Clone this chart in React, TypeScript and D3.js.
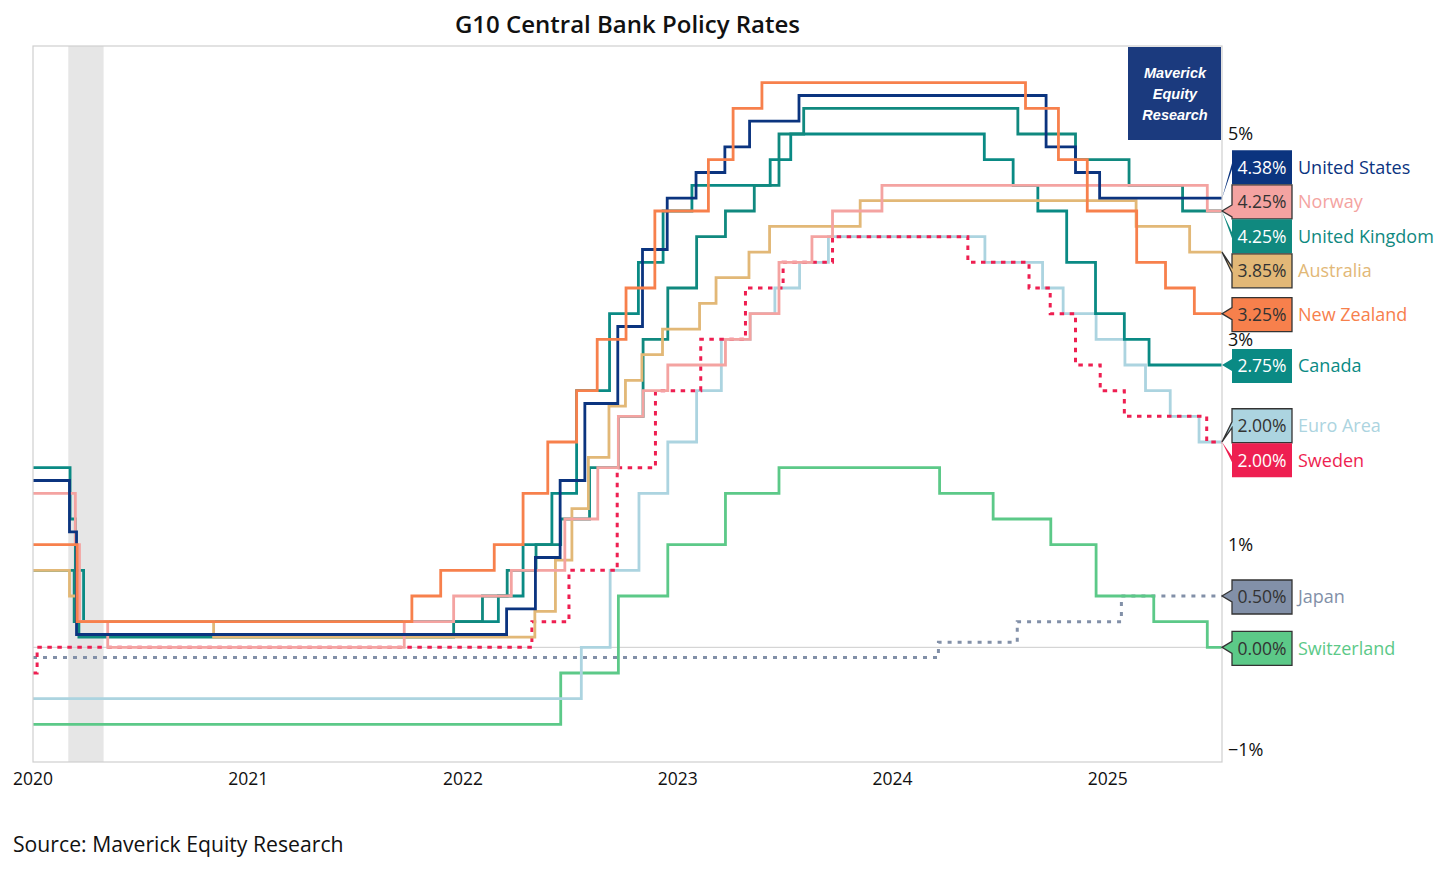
import { useEffect, useRef } from "react";
import * as d3 from "d3";

// [decision date, policy rate %]
type Step = [string, number];

const START = "2020-01-01";
const END = "2025-07-14";

const US: Step[] = [
  ["2020-01-01", 1.625], ["2020-03-03", 1.125], ["2020-03-15", 0.125],
  ["2022-03-16", 0.375], ["2022-05-04", 0.875], ["2022-06-15", 1.625],
  ["2022-07-27", 2.375], ["2022-09-21", 3.125], ["2022-11-02", 3.875],
  ["2022-12-14", 4.375], ["2023-02-01", 4.625], ["2023-03-22", 4.875],
  ["2023-05-03", 5.125], ["2023-07-26", 5.375], ["2024-09-18", 4.875],
  ["2024-11-07", 4.625], ["2024-12-18", 4.375],
];

const NORWAY: Step[] = [
  ["2020-01-01", 1.5], ["2020-03-13", 1.0], ["2020-03-20", 0.25], ["2020-05-07", 0],
  ["2021-09-23", 0.25], ["2021-12-16", 0.5], ["2022-03-24", 0.75], ["2022-06-23", 1.25],
  ["2022-08-18", 1.75], ["2022-09-22", 2.25], ["2022-11-03", 2.5], ["2022-12-15", 2.75],
  ["2023-03-23", 3.0], ["2023-05-04", 3.25], ["2023-06-22", 3.75], ["2023-08-17", 4.0],
  ["2023-09-21", 4.25], ["2023-12-14", 4.5], ["2025-06-19", 4.25],
];

const UK: Step[] = [
  ["2020-01-01", 0.75], ["2020-03-11", 0.25], ["2020-03-19", 0.1],
  ["2021-12-16", 0.25], ["2022-02-03", 0.5], ["2022-03-17", 0.75], ["2022-05-05", 1.0],
  ["2022-06-16", 1.25], ["2022-08-04", 1.75], ["2022-09-22", 2.25], ["2022-11-03", 3.0],
  ["2022-12-15", 3.5], ["2023-02-02", 4.0], ["2023-03-23", 4.25], ["2023-05-11", 4.5],
  ["2023-06-22", 5.0], ["2023-08-03", 5.25], ["2024-08-01", 5.0], ["2024-11-07", 4.75],
  ["2025-02-06", 4.5], ["2025-05-08", 4.25],
];

const AUSTRALIA: Step[] = [
  ["2020-01-01", 0.75], ["2020-03-03", 0.5], ["2020-03-19", 0.25], ["2020-11-03", 0.1],
  ["2022-05-03", 0.35], ["2022-06-07", 0.85], ["2022-07-05", 1.35], ["2022-08-02", 1.85],
  ["2022-09-06", 2.35], ["2022-10-04", 2.6], ["2022-11-01", 2.85], ["2022-12-06", 3.1],
  ["2023-02-07", 3.35], ["2023-03-07", 3.6], ["2023-05-02", 3.85], ["2023-06-06", 4.1],
  ["2023-11-07", 4.35], ["2025-02-18", 4.1], ["2025-05-20", 3.85],
];

const NEW_ZEALAND: Step[] = [
  ["2020-01-01", 1.0], ["2020-03-16", 0.25], ["2021-10-06", 0.5], ["2021-11-24", 0.75],
  ["2022-02-23", 1.0], ["2022-04-13", 1.5], ["2022-05-25", 2.0], ["2022-07-13", 2.5],
  ["2022-08-17", 3.0], ["2022-10-05", 3.5], ["2022-11-23", 4.25], ["2023-02-22", 4.75],
  ["2023-04-05", 5.25], ["2023-05-24", 5.5], ["2024-08-14", 5.25], ["2024-10-09", 4.75],
  ["2024-11-27", 4.25], ["2025-02-19", 3.75], ["2025-04-09", 3.5], ["2025-05-28", 3.25],
];

const CANADA: Step[] = [
  ["2020-01-01", 1.75], ["2020-03-04", 1.25], ["2020-03-13", 0.75], ["2020-03-27", 0.25],
  ["2022-03-02", 0.5], ["2022-04-13", 1.0], ["2022-06-01", 1.5], ["2022-07-13", 2.5],
  ["2022-09-07", 3.25], ["2022-10-26", 3.75], ["2022-12-07", 4.25], ["2023-01-25", 4.5],
  ["2023-06-07", 4.75], ["2023-07-12", 5.0], ["2024-06-05", 4.75], ["2024-07-24", 4.5],
  ["2024-09-04", 4.25], ["2024-10-23", 3.75], ["2024-12-11", 3.25], ["2025-01-29", 3.0],
  ["2025-03-12", 2.75],
];

const EURO_AREA: Step[] = [
  ["2020-01-01", -0.5], ["2022-07-21", 0], ["2022-09-08", 0.75], ["2022-10-27", 1.5],
  ["2022-12-15", 2.0], ["2023-02-02", 2.5], ["2023-03-16", 3.0], ["2023-05-04", 3.25],
  ["2023-06-15", 3.5], ["2023-07-27", 3.75], ["2023-09-14", 4.0], ["2024-06-06", 3.75],
  ["2024-09-12", 3.5], ["2024-10-17", 3.25], ["2024-12-12", 3.0], ["2025-01-30", 2.75],
  ["2025-03-06", 2.5], ["2025-04-17", 2.25], ["2025-06-05", 2.0],
];

const SWEDEN: Step[] = [
  ["2020-01-01", -0.25], ["2020-01-08", 0], ["2022-04-28", 0.25], ["2022-06-30", 0.75],
  ["2022-09-20", 1.75], ["2022-11-24", 2.5], ["2023-02-09", 3.0], ["2023-04-26", 3.5],
  ["2023-06-29", 3.75], ["2023-09-21", 4.0], ["2024-05-08", 3.75], ["2024-08-20", 3.5],
  ["2024-09-25", 3.25], ["2024-11-07", 2.75], ["2024-12-19", 2.5], ["2025-01-29", 2.25],
  ["2025-06-18", 2.0],
];

const JAPAN: Step[] = [
  ["2020-01-01", -0.1], ["2024-03-19", 0.05], ["2024-07-31", 0.25], ["2025-01-24", 0.5],
];

const SWITZERLAND: Step[] = [
  ["2020-01-01", -0.75], ["2022-06-16", -0.25], ["2022-09-22", 0.5], ["2022-12-15", 1.0],
  ["2023-03-23", 1.5], ["2023-06-22", 1.75], ["2024-03-21", 1.5], ["2024-06-20", 1.25],
  ["2024-09-26", 1.0], ["2024-12-12", 0.5], ["2025-03-20", 0.25], ["2025-06-19", 0],
];

const Y_TICKS = [-1, 1, 3, 5];
const YEARS = [2020, 2021, 2022, 2023, 2024, 2025];
const RECESSION: [string, string] = ["2020-03-01", "2020-04-30"];

// label order (top to bottom); dark = dark text + border on the callout
const SERIES = [
  { name: "United States", data: US, color: "#0b347f", dark: false, dash: "" },
  { name: "Norway", data: NORWAY, color: "#f4a3a1", dark: true, dash: "" },
  { name: "United Kingdom", data: UK, color: "#10897f", dark: false, dash: "" },
  { name: "Australia", data: AUSTRALIA, color: "#e2b877", dark: true, dash: "" },
  { name: "New Zealand", data: NEW_ZEALAND, color: "#f7804c", dark: true, dash: "" },
  { name: "Canada", data: CANADA, color: "#0a8a84", dark: false, dash: "" },
  { name: "Euro Area", data: EURO_AREA, color: "#acd4e0", dark: true, dash: "" },
  { name: "Sweden", data: SWEDEN, color: "#ee1f51", dark: false, dash: "4.5,5.5" },
  { name: "Japan", data: JAPAN, color: "#8290a8", dark: true, dash: "4,6" },
  { name: "Switzerland", data: SWITZERLAND, color: "#5cc988", dark: true, dash: "" },
];

const DRAW_ORDER = ["Japan", "Switzerland", "Euro Area", "Sweden", "Canada", "United Kingdom", "Australia", "Norway", "United States", "New Zealand"];

const FONT = "'Open Sans', 'Noto Sans', sans-serif";

export default function App() {
  const svgRef = useRef<SVGSVGElement | null>(null);

  useEffect(() => {
    if (!svgRef.current) return;
    const W = 1456, H = 873;
    const left = 33, right = 1222, top = 46, bottom = 762;
    const parse = d3.timeParse("%Y-%m-%d");

    const svg = d3.select(svgRef.current);
    svg.selectAll("*").remove();
    svg.attr("width", W).attr("height", H).attr("viewBox", `0 0 ${W} ${H}`);

    const x = d3.scaleTime().domain([parse(START)!, parse(END)!]).range([left, right]);
    const y = d3.scaleLinear().domain([-1.117, 5.857]).range([bottom, top]);

    svg.append("rect").attr("width", W).attr("height", H).attr("fill", "#fff");

    // recession shading
    svg.append("rect")
      .attr("x", x(parse(RECESSION[0])!)).attr("y", top)
      .attr("width", x(parse(RECESSION[1])!) - x(parse(RECESSION[0])!))
      .attr("height", bottom - top).attr("fill", "#e6e6e6");

    // zero line
    svg.append("line").attr("x1", left).attr("x2", right)
      .attr("y1", y(0)).attr("y2", y(0)).attr("stroke", "#cccccc").attr("stroke-width", 1);

    // lines
    const line = d3.line<[Date, number]>().x((d) => x(d[0])).y((d) => y(d[1])).curve(d3.curveStepAfter);
    const byName = new Map(SERIES.map((s) => [s.name, s]));
    for (const nm of DRAW_ORDER) {
      const s = byName.get(nm)!;
      const pts: [Date, number][] = s.data.map((d) => [parse(d[0])!, d[1]]);
      pts.push([parse(END)!, s.data[s.data.length - 1][1]]);
      svg.append("path").datum(pts).attr("d", line)
        .attr("fill", "none").attr("stroke", s.color).attr("stroke-width", s.dash ? 3 : 2.8)
        .attr("stroke-dasharray", s.dash || null);
    }

    // plot border
    svg.append("rect").attr("x", left).attr("y", top)
      .attr("width", right - left).attr("height", bottom - top)
      .attr("fill", "none").attr("stroke", "#cfcfcf").attr("stroke-width", 1.2);

    // watermark
    svg.append("rect").attr("x", 1128).attr("y", 47).attr("width", 93).attr("height", 93).attr("fill", "#1b3a7e");
    ["Maverick", "Equity", "Research"].forEach((t, i) => {
      svg.append("text").attr("x", 1175).attr("y", 78 + i * 21).attr("text-anchor", "middle")
        .attr("font-family", "'Liberation Sans', Arial, sans-serif").attr("font-size", 14.5)
        .attr("font-weight", 700).attr("font-style", "italic").attr("fill", "#fff").text(t);
    });

    // title
    svg.append("text").attr("x", (left + right) / 2).attr("y", 33).attr("text-anchor", "middle")
      .attr("font-family", FONT).attr("font-size", 24).attr("font-weight", 600).attr("fill", "#111")
      .text("G10 Central Bank Policy Rates");

    // y axis labels (right)
    for (const t of Y_TICKS) {
      svg.append("text").attr("x", 1228).attr("y", y(t)).attr("dy", "0.35em")
        .attr("font-family", FONT).attr("font-size", 18).attr("fill", "#111")
        .text(`${t < 0 ? "\u2212" : ""}${Math.abs(t)}%`);
    }

    // x axis labels
    for (const yr of YEARS) {
      svg.append("text").attr("x", x(new Date(yr, 0, 1))).attr("y", 779).attr("dy", "0.35em")
        .attr("text-anchor", "middle").attr("font-family", FONT).attr("font-size", 17.5)
        .attr("fill", "#111").text(String(yr));
    }

    // source
    svg.append("text").attr("x", 13).attr("y", 845).attr("dy", "0.35em")
      .attr("font-family", FONT).attr("font-size", 21.2).attr("fill", "#111")
      .text("Source: Maverick Equity Research");

    // end labels, spread to avoid overlap (clusters centred on their anchors)
    const boxH = 34, gap = 34.5, boxX = 1232, boxW = 60;
    type Lab = { s: (typeof SERIES)[number]; anchor: number; cy: number };
    const labs: Lab[] = SERIES.map((s) => {
      const v = s.data[s.data.length - 1][1];
      return { s, anchor: y(v), cy: y(v) };
    });
    const groups: Lab[][] = labs.map((l) => [l]);
    const place = (g: Lab[]) => {
      const mean = d3.mean(g, (l) => l.anchor)!;
      g.forEach((l, k) => (l.cy = mean + (k - (g.length - 1) / 2) * gap));
    };
    let changed = true;
    while (changed) {
      changed = false;
      for (let i = 0; i < groups.length - 1; i++) {
        const a = groups[i], b = groups[i + 1];
        if (a[a.length - 1].cy + gap > b[0].cy + 0.01) {
          const m = [...a, ...b];
          place(m);
          groups.splice(i, 2, m);
          changed = true;
          break;
        }
      }
    }

    for (const l of labs) {
      const by = l.cy - boxH / 2 + 1;
      const ax = right, ay = l.anchor;
      const bx = boxX, bw = boxW;
      let p = `M${bx},${by} L${bx + bw},${by} L${bx + bw},${by + boxH} L${bx},${by + boxH} `;
      if (ay > by + 7 && ay < by + boxH - 7) {
        p += `L${bx},${ay + 6} L${ax},${ay} L${bx},${ay - 6} Z`;
      } else {
        p += `L${bx},${l.cy + 3} L${ax},${ay} L${bx},${l.cy - 3} Z`;
      }
      svg.append("path").attr("d", p).attr("fill", l.s.color)
        .attr("stroke", l.s.dark ? "#333" : "none").attr("stroke-width", 1.3)
        .attr("stroke-linejoin", "miter");
      const v = l.s.data[l.s.data.length - 1][1];
      svg.append("text").attr("x", bx + bw / 2).attr("y", l.cy + 1).attr("dy", "0.36em")
        .attr("text-anchor", "middle").attr("font-family", FONT).attr("font-size", 17.5)
        .attr("fill", l.s.dark ? "#333" : "#fff").text(`${v.toFixed(2)}%`);
      svg.append("text").attr("x", 1298).attr("y", l.cy + 1).attr("dy", "0.36em")
        .attr("font-family", FONT).attr("font-size", 18)
        .attr("fill", l.s.color).text(l.s.name);
    }
  }, []);

  return <svg ref={svgRef} style={{ position: "absolute", left: 0, top: 0, display: "block" }} />;
}
